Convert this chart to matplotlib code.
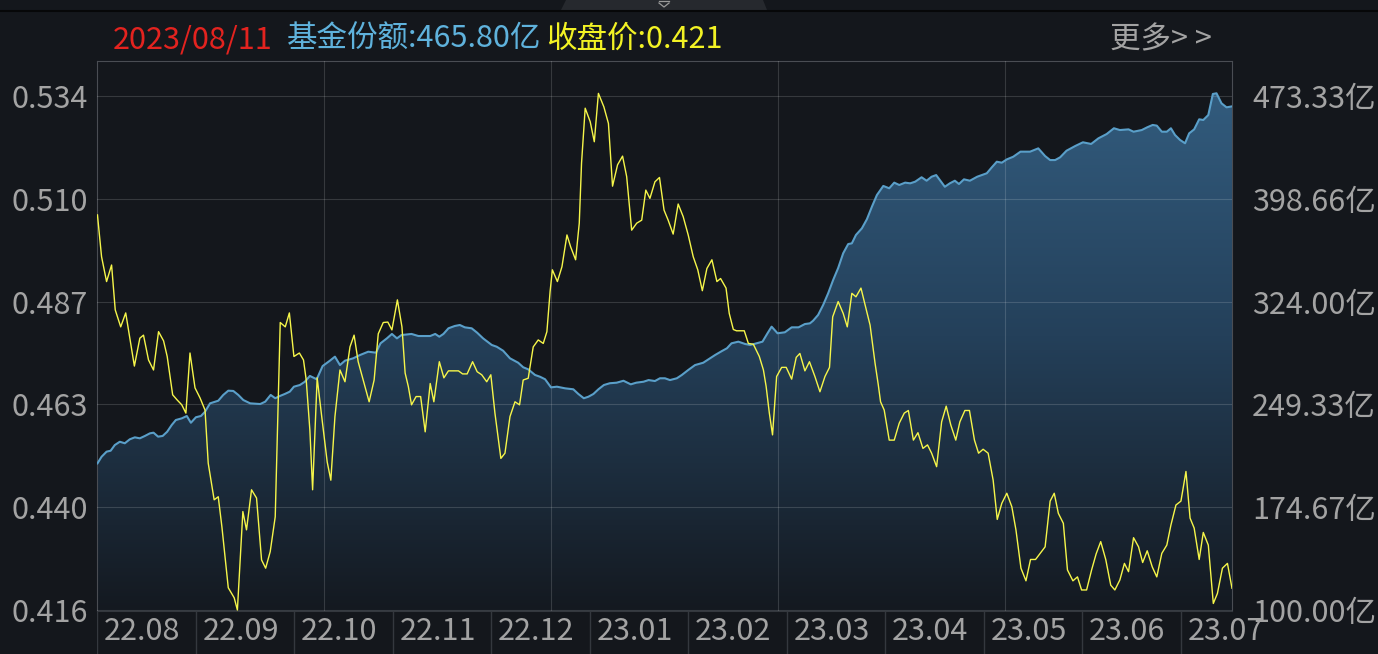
import numpy as np
import matplotlib.pyplot as plt
from matplotlib.colors import LinearSegmentedColormap
from matplotlib.patches import Polygon

plt.rcParams['font.family'] = ['Noto Sans CJK SC', 'DejaVu Sans']

# 收盘价：交易日序号 -> 价格
price_day = [
    0.1, 1.0, 2.1, 3.2, 4.0, 5.2, 6.3, 8.2, 9.4, 10.2,
    11.3, 12.4, 13.5, 14.6, 15.4, 16.6, 17.6, 18.6, 19.5, 20.4,
    21.5, 22.6, 23.7, 24.4, 25.7, 26.6, 27.4, 28.8, 30.1, 30.8,
    31.4, 32.0, 32.8, 33.9, 35.0, 36.1, 37.0, 38.0, 39.1, 40.2,
    41.3, 42.2, 43.2, 44.4, 45.3, 45.9, 46.7, 47.3, 48.3, 49.3,
    50.5, 51.3, 52.2, 53.3, 54.4, 55.5, 56.4, 57.3, 58.4, 59.7,
    60.8, 61.7, 62.8, 63.8, 64.7, 65.9, 66.9, 67.6, 68.3, 69.0,
    70.0, 71.0, 72.0, 73.1, 73.9, 75.1, 76.1, 77.1, 79.3, 80.2,
    81.2, 82.4, 83.4, 84.4, 85.5, 86.4, 87.3, 88.6, 89.5, 90.6,
    91.7, 92.7, 93.5, 94.6, 95.7, 96.8, 97.9, 98.7, 99.4, 99.9,
    101.0, 102.0, 103.1, 103.9, 105.0, 105.8, 106.3, 107.1, 108.2, 109.1,
    110.0, 111.2, 112.2, 113.1, 114.2, 115.3, 116.2, 117.3, 118.4, 119.5,
    120.4, 121.3, 122.4, 123.4, 124.4, 125.3, 126.4, 127.5, 128.6, 129.7,
    130.8, 131.8, 132.8, 133.8, 134.9, 136.0, 136.8, 138.0, 138.7, 139.6,
    140.3, 142.0, 142.9, 144.0, 145.3, 146.2, 146.8, 147.5, 148.2, 149.1,
    150.2, 151.2, 152.4, 153.4, 154.2, 155.3, 156.3, 157.5, 158.6, 159.7,
    160.7, 161.4, 162.6, 163.7, 164.6, 165.6, 166.5, 167.6, 168.6, 169.6,
    170.7, 171.4, 171.9, 172.7, 173.8, 174.9, 176.0, 177.1, 178.0, 179.1,
    180.1, 181.2, 182.2, 183.1, 184.2, 185.3, 186.3, 187.3, 188.4, 189.3,
    190.4, 191.4, 192.5, 193.4, 194.4, 195.5, 196.6, 197.5, 198.5, 199.6,
    200.7, 201.6, 202.7, 203.8, 204.8, 205.9, 206.9, 208.0, 209.1, 210.0,
    210.9, 212.0, 212.9, 214.1, 215.1, 216.0, 217.1, 218.2, 219.2, 220.2,
    221.3, 222.4, 223.3, 224.4, 225.4, 226.3, 227.4, 228.5, 229.4, 230.4,
    231.5, 232.5, 233.6, 234.7, 235.6, 236.7, 237.8, 238.9, 239.8, 240.7,
    241.8, 242.7, 243.8, 244.9, 245.8, 246.9, 248.0, 249.0,
]
price = [
    0.5067, 0.4971, 0.4914, 0.4952, 0.4849, 0.4810, 0.4842, 0.4720, 0.4784, 0.4791,
    0.4734, 0.4711, 0.4799, 0.4778, 0.4742, 0.4654, 0.4642, 0.4631, 0.4612, 0.4750,
    0.4670, 0.4647, 0.4619, 0.4497, 0.4413, 0.4420, 0.4351, 0.4211, 0.4188, 0.4160,
    0.4275, 0.4386, 0.4344, 0.4436, 0.4417, 0.4275, 0.4256, 0.4294, 0.4374, 0.4820,
    0.4810, 0.4842, 0.4742, 0.4750, 0.4734, 0.4688, 0.4573, 0.4436, 0.4693, 0.4604,
    0.4500, 0.4458, 0.4604, 0.4711, 0.4684, 0.4764, 0.4791, 0.4730, 0.4688, 0.4638,
    0.4688, 0.4794, 0.4820, 0.4821, 0.4803, 0.4872, 0.4810, 0.4704, 0.4673, 0.4631,
    0.4650, 0.4650, 0.4569, 0.4680, 0.4638, 0.4730, 0.4693, 0.4709, 0.4709, 0.4702,
    0.4702, 0.4730, 0.4707, 0.4700, 0.4684, 0.4700, 0.4612, 0.4508, 0.4520, 0.4604,
    0.4638, 0.4631, 0.4688, 0.4692, 0.4764, 0.4780, 0.4772, 0.4799, 0.4891, 0.4941,
    0.4914, 0.4948, 0.5021, 0.4994, 0.4964, 0.5048, 0.5186, 0.5312, 0.5281, 0.5235,
    0.5346, 0.5315, 0.5277, 0.5133, 0.5182, 0.5202, 0.5155, 0.5032, 0.5048, 0.5055,
    0.5124, 0.5105, 0.5143, 0.5153, 0.5078, 0.5055, 0.5023, 0.5092, 0.5063, 0.5021,
    0.4971, 0.4941, 0.4893, 0.4944, 0.4964, 0.4914, 0.4921, 0.4899, 0.4841, 0.4804,
    0.4801, 0.4801, 0.4772, 0.4770, 0.4742, 0.4711, 0.4673, 0.4612, 0.4562, 0.4696,
    0.4717, 0.4717, 0.4690, 0.4740, 0.4749, 0.4709, 0.4730, 0.4696, 0.4661, 0.4696,
    0.4717, 0.4833, 0.4868, 0.4841, 0.4810, 0.4887, 0.4879, 0.4899, 0.4856, 0.4814,
    0.4726, 0.4677, 0.4638, 0.4619, 0.4550, 0.4550, 0.4589, 0.4612, 0.4618, 0.4550,
    0.4567, 0.4531, 0.4539, 0.4520, 0.4489, 0.4592, 0.4628, 0.4585, 0.4550, 0.4592,
    0.4618, 0.4618, 0.4550, 0.4520, 0.4529, 0.4520, 0.4458, 0.4368, 0.4405, 0.4428,
    0.4397, 0.4344, 0.4256, 0.4227, 0.4276, 0.4276, 0.4290, 0.4305, 0.4410, 0.4428,
    0.4382, 0.4359, 0.4252, 0.4227, 0.4236, 0.4206, 0.4206, 0.4252, 0.4289, 0.4317,
    0.4276, 0.4217, 0.4206, 0.4229, 0.4267, 0.4248, 0.4326, 0.4305, 0.4269, 0.4296,
    0.4259, 0.4236, 0.4290, 0.4309, 0.4355, 0.4401, 0.4410, 0.4478, 0.4371, 0.4348,
    0.4276, 0.4338, 0.4309, 0.4175, 0.4198, 0.4256, 0.4267, 0.4210,
]

# 基金份额（亿份）
share_day = [
    0.1, 1.0, 2.1, 3.0, 3.9, 5.0, 6.1, 7.2, 8.3, 9.4,
    10.5, 11.6, 12.4, 13.4, 14.4, 15.4, 16.4, 17.3, 18.6, 19.7,
    20.6, 21.7, 22.8, 23.7, 24.8, 26.6, 27.7, 28.8, 29.9, 31.0,
    32.1, 33.6, 35.8, 36.9, 38.1, 39.1, 40.1, 41.2, 42.3, 43.2,
    44.5, 45.6, 46.7, 48.2, 49.5, 51.1, 52.2, 53.3, 54.4, 56.2,
    57.7, 59.5, 61.2, 62.2, 63.6, 64.7, 65.8, 66.8, 69.0, 70.5,
    73.1, 74.2, 75.1, 76.0, 77.1, 78.5, 79.6, 80.7, 82.2, 83.4,
    84.7, 86.6, 87.7, 89.1, 90.6, 92.4, 93.5, 94.6, 96.1, 97.2,
    98.3, 99.6, 100.9, 102.7, 104.5, 105.6, 106.8, 107.8, 108.9, 110.0,
    111.2, 112.5, 114.0, 115.5, 117.1, 118.3, 119.9, 121.0, 122.4, 123.5,
    124.6, 125.7, 127.2, 128.3, 129.7, 131.2, 133.0, 134.5, 135.6, 137.1,
    138.2, 139.2, 140.7, 142.2, 143.3, 144.7, 146.0, 147.1, 148.0, 149.3,
    150.9, 152.4, 153.9, 155.3, 156.4, 157.1, 158.2, 159.3, 160.4, 161.5,
    162.6, 163.7, 164.8, 165.6, 166.5, 167.8, 168.9, 170.0, 171.1, 172.5,
    173.8, 174.9, 176.0, 177.3, 178.4, 179.5, 180.9, 182.0, 183.1, 184.1,
    184.9, 186.0, 187.1, 188.2, 189.1, 190.2, 191.5, 193.1, 195.2, 196.3,
    197.4, 198.5, 199.6, 201.0, 202.6, 204.7, 206.5, 208.0, 209.1, 210.2,
    211.3, 212.7, 214.6, 216.3, 218.1, 219.7, 221.5, 223.1, 224.4, 226.3,
    227.4, 229.2, 230.4, 231.6, 232.5, 233.6, 234.7, 235.6, 236.5, 237.6,
    238.7, 239.6, 240.7, 241.8, 242.7, 243.8, 244.8, 245.6, 246.7, 247.8,
    249.0,
]
share = [
    206.5, 211.3, 215.0, 215.7, 219.8, 222.2, 221.1, 224.0, 225.4, 224.7,
    226.4, 228.3, 228.8, 225.9, 226.4, 229.5, 234.4, 238.0, 239.2, 240.9,
    236.0, 240.0, 240.9, 244.0, 250.1, 252.0, 256.2, 259.3, 259.1, 256.2,
    252.5, 250.1, 249.6, 251.3, 256.2, 253.8, 255.4, 256.9, 258.6, 262.2,
    263.4, 265.8, 270.0, 267.6, 277.2, 281.1, 284.0, 277.9, 281.1, 282.8,
    285.2, 287.6, 286.9, 293.7, 297.3, 300.5, 297.3, 299.7, 300.5, 299.0,
    299.0, 300.5, 298.5, 300.5, 304.6, 306.3, 307.0, 305.3, 304.6, 301.4,
    297.3, 292.5, 291.2, 288.3, 282.8, 279.6, 276.3, 274.8, 270.7, 269.4,
    267.6, 261.7, 262.2, 261.0, 260.3, 256.9, 253.8, 254.9, 256.9, 260.3,
    263.4, 264.7, 265.1, 266.5, 263.9, 265.1, 265.8, 267.0, 266.3, 268.3,
    268.3, 267.0, 268.3, 270.7, 274.3, 277.9, 279.6, 282.8, 285.2, 288.1,
    290.1, 293.7, 294.9, 293.2, 292.5, 293.7, 294.9, 301.0, 305.8, 301.0,
    301.7, 305.3, 305.3, 307.7, 308.2, 310.1, 314.3, 321.5, 330.0, 339.7,
    348.4, 359.1, 365.8, 366.3, 372.4, 377.2, 383.8, 392.9, 401.4, 408.0,
    406.3, 410.4, 408.7, 410.4, 409.9, 411.1, 414.3, 411.8, 414.7, 415.9,
    412.3, 407.4, 409.9, 411.8, 409.4, 412.8, 411.8, 414.7, 417.2, 421.5,
    425.6, 424.9, 427.3, 429.2, 432.9, 432.9, 435.3, 429.7, 426.8, 426.8,
    428.8, 433.6, 437.0, 439.7, 438.5, 442.6, 445.7, 449.9, 448.6, 449.1,
    447.4, 448.6, 450.6, 452.3, 451.8, 447.4, 447.4, 449.9, 445.0, 441.4,
    439.0, 446.2, 449.1, 456.4, 455.9, 459.5, 474.8, 475.3, 468.0, 465.1,
    465.8,
]

month_labels = ['22.08', '22.09', '22.10', '22.11', '22.12', '23.01',
                '23.02', '23.03', '23.04', '23.05', '23.06', '23.07']
price_ticks = np.linspace(0.416, 0.534, 6)
share_ticks = np.linspace(100.0, 473.33, 6)
header_date = '2023/08/11'
header_share = '基金份额:465.80亿'
header_price = '收盘价:0.421'

BG = '#14171c'
TEXT = '#a3a3a3'
FS = 22
W, H = 1378, 654
N_DAYS = 249


def lim_for(ticks, lo_frac=1 / 550, hi_frac=515 / 550):
    # 让最低/最高刻度落在绘图区的固定位置
    span = (ticks[-1] - ticks[0]) / (hi_frac - lo_frac)
    lo = ticks[0] - lo_frac * span
    return lo, lo + span


def px(x, y):
    return x / W, 1 - y / H


fig = plt.figure(figsize=(W / 100, H / 100), dpi=100, facecolor=BG)

# 顶部标签栏
fig.add_artist(plt.Line2D([0, 1], [1 - 11 / H, 1 - 11 / H], transform=fig.transFigure,
                          color='#060708', lw=1.5))
fig.add_artist(Polygon([px(561, 10), px(566, 0), px(763, 0), px(767, 10)],
                       closed=True, transform=fig.transFigure, facecolor='#26292e',
                       edgecolor='none'))
chev = [px(659, 3), px(664, 7), px(669, 3)]
fig.add_artist(plt.Line2D([p[0] for p in chev], [p[1] for p in chev],
                          transform=fig.transFigure, color='#9a9a9a', lw=0.9))
fig.add_artist(plt.Line2D([px(659, 1)[0], px(669, 1)[0]], [px(659, 1)[1]] * 2,
                          transform=fig.transFigure, color='#9a9a9a', lw=0.9))

fig.text(113 / W, 1 - 48 / H, header_date, color='#e3231f', fontsize=FS, va='baseline')
fig.text(287 / W, 1 - 48 / H, header_share, color='#5fb2dc', fontsize=FS, va='baseline')
fig.text(546 / W, 1 - 48 / H, header_price, color='#f2f224', fontsize=FS, va='baseline')
fig.text(1110 / W, 1 - 48 / H, '更多> >', color=TEXT, fontsize=FS, va='baseline')

# 主图：份额（右轴）
ax = fig.add_axes([97 / W, 43 / H, 1135 / W, 550 / H])
ax.set_facecolor(BG)
ax.set_xlim(0, N_DAYS)
share_lim = lim_for(share_ticks)
ax.set_ylim(*share_lim)

grad = LinearSegmentedColormap.from_list('fill', ['#141920', '#24405a', '#345f82'])
im = ax.imshow(np.linspace(0, 1, 256).reshape(-1, 1), cmap=grad, origin='lower',
               extent=[0, N_DAYS, share_lim[0], share_lim[1]], aspect='auto', zorder=1)
clip = Polygon([(share_day[0], share_lim[0])] + list(zip(share_day, share)) +
               [(share_day[-1], share_lim[0])], closed=True, facecolor='none',
               edgecolor='none')
ax.add_patch(clip)
im.set_clip_path(clip)
ax.plot(share_day, share, color='#5a9fc9', lw=1.5, zorder=3)

ax.set_xticks(np.linspace(0, N_DAYS, 6)[1:-1])
ax.tick_params(axis='x', length=0, labelbottom=False)
ax.set_axisbelow(False)
ax.grid(True, color='white', alpha=0.15, lw=0.8)
for side in ['left', 'top', 'right']:
    ax.spines[side].set_color('#4a4d53')
ax.spines['bottom'].set_color('#34383e')

# 收盘价（左轴）
ax_p = ax.twinx()
ax_p.set_ylim(*lim_for(price_ticks))
ax_p.plot(price_day, price, color='#f6f64a', lw=1.0, zorder=4)
ax_p.set_yticks(price_ticks, [f'{v:.3f}' for v in price_ticks])
ax_p.yaxis.tick_left()
ax_p.tick_params(axis='y', length=0, pad=6.5, labelsize=FS, labelcolor=TEXT)
for s in ax_p.spines.values():
    s.set_visible(False)

ax.set_yticks(share_ticks, [f'{v:.2f}亿' for v in share_ticks])
ax.yaxis.tick_right()
ax.tick_params(axis='y', length=0, pad=14.5, labelsize=FS, labelcolor=TEXT)

# 底部月份栏
ax_lab = fig.add_axes([97 / W, 0, 12 * 98.5 / W, 43 / H])
ax_lab.set_xlim(0, len(month_labels))
ax_lab.set_ylim(0, 1)
ax_lab.axis('off')
for i, lab in enumerate(month_labels):
    ax_lab.axvline(i, color='#34383e', lw=1)
    ax_lab.text(i + 0.07, 0.32, lab, color=TEXT, fontsize=FS, va='baseline')

fig.savefig('out.png', dpi=100, facecolor=BG)
